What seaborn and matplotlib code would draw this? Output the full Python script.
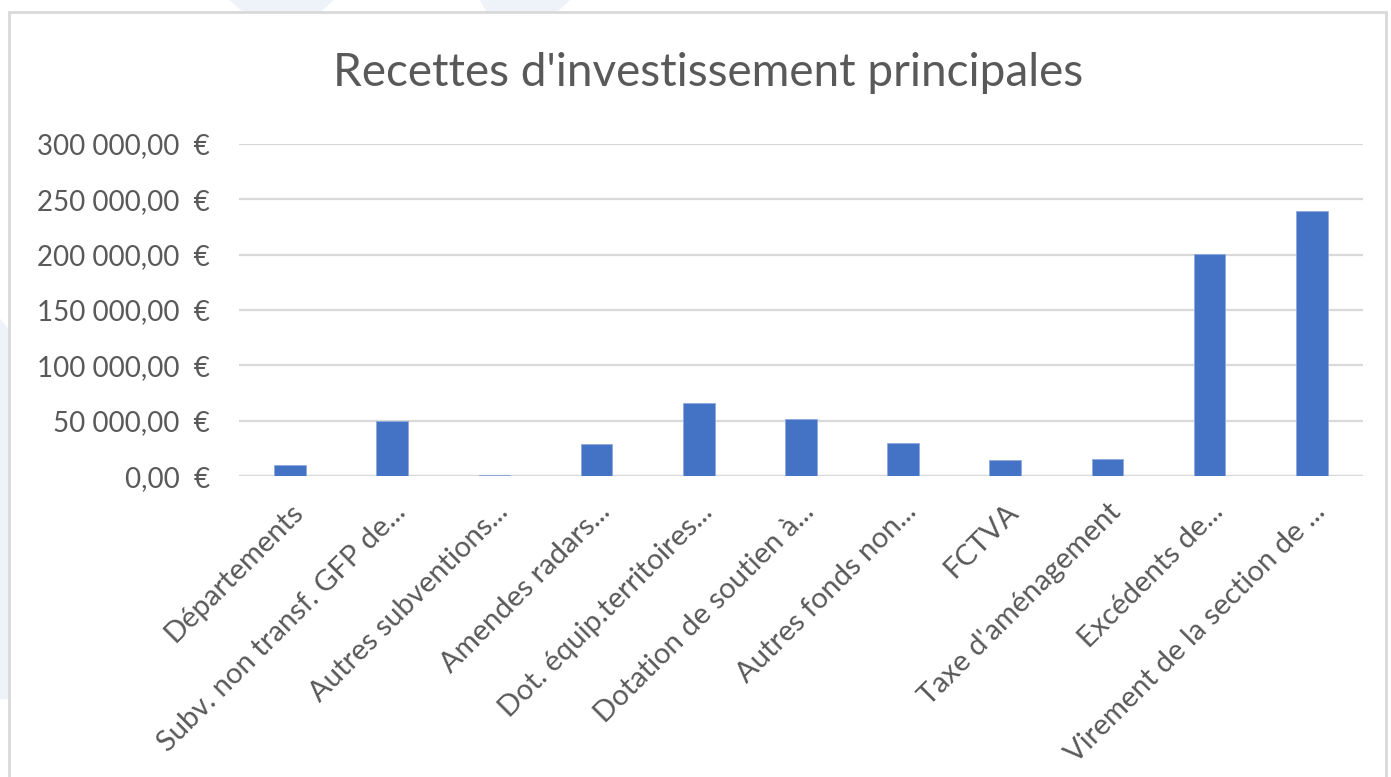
import numpy as np
import pandas as pd
import matplotlib
matplotlib.use("Agg")
import matplotlib.pyplot as plt
from matplotlib.ticker import FuncFormatter
from matplotlib.patches import Rectangle, Polygon
import seaborn as sns

categories = [
    "Départements",
    "Subv. non transf. GFP de...",
    "Autres subventions...",
    "Amendes radars...",
    "Dot. équip.territoires...",
    "Dotation de soutien à...",
    "Autres fonds non...",
    "FCTVA",
    "Taxe d'aménagement",
    "Excédents de...",
    "Virement de la section de ...",
]
values = [9800, 49800, 1500, 29000, 65800, 51500, 30400, 14500, 16000, 200600, 239200]
y_ticks = [0, 50000, 100000, 150000, 200000, 250000, 300000]

bar_color = "#4472C4"
grid_color = "#D9D9D9"
text_color = "#595959"

sns.set_style("white")
plt.rcParams["font.family"] = ["Lato", "DejaVu Sans"]

df = pd.DataFrame({"categorie": categories, "montant": values})

fig = plt.figure(figsize=(13.91, 7.77), dpi=100)
fig.patch.set_facecolor("white")

# faint decorative shapes behind the chart frame
for pts in ([(0.0, 0.10), (0.007, 0.10), (0.007, 0.575), (0.0, 0.59)],
            [(0.165, 1.0), (0.24, 1.0), (0.23, 0.984), (0.175, 0.984)],
            [(0.345, 1.0), (0.41, 1.0), (0.40, 0.984), (0.35, 0.984)]):
    fig.patches.append(Polygon(pts, closed=True, transform=fig.transFigure,
                               facecolor="#EEF2F9", edgecolor="none", zorder=-3))

# chart frame
fig.patches.append(Rectangle((0.0065, -0.05), 0.99, 1.0346, transform=fig.transFigure,
                             facecolor="white", edgecolor=grid_color, linewidth=2, zorder=-2))

ax = fig.add_axes([0.1718, 0.387, 0.808, 0.428])
ax.set_facecolor("none")
sns.barplot(data=df, x="categorie", y="montant", color=bar_color, width=0.31,
            saturation=1, edgecolor="#8FAADC", linewidth=0.6, ax=ax, zorder=3)

ax.set_ylim(0, 300000)
ax.set_xlim(-0.5, len(categories) - 0.5)
ax.set_yticks(y_ticks)
ax.yaxis.set_major_formatter(FuncFormatter(
    lambda v, p: f"{v:,.2f}".replace(",", " ").replace(".", ",") + "  €"))
ax.grid(axis="y", color=grid_color, linewidth=1.6, zorder=0)
ax.grid(axis="x", visible=False)
sns.despine(ax=ax, left=True, bottom=True, top=True, right=True)
ax.axhline(0, color=grid_color, linewidth=1.6, zorder=2)

ax.set_xlabel("")
ax.set_ylabel("")
ax.tick_params(axis="y", length=0, pad=21, labelsize=20, labelcolor=text_color)
ax.tick_params(axis="x", length=0, pad=16, labelsize=21, labelcolor=text_color)
for lab in ax.get_xticklabels():
    lab.set_rotation(45)
    lab.set_ha("right")
    lab.set_va("top")
    lab.set_rotation_mode("anchor")

fig.text(0.509, 0.906, "Recettes d'investissement principales", ha="center", va="center",
         fontsize=33, color=text_color)

fig.savefig("out.png", dpi=100)
